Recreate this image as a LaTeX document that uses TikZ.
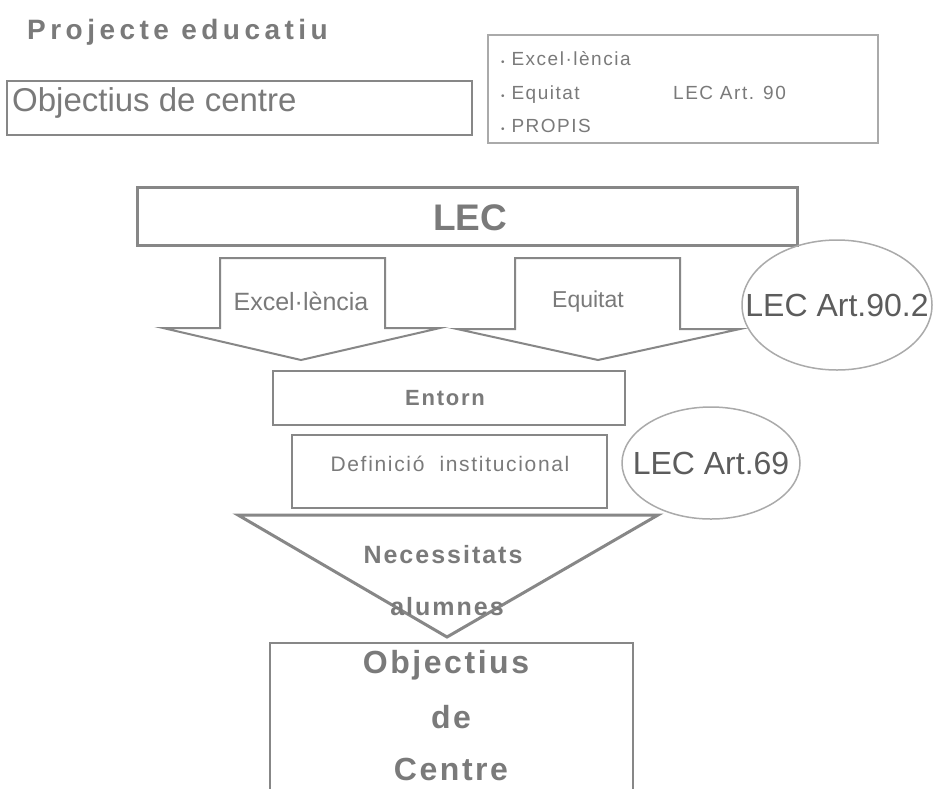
\documentclass[tikz,border=0pt]{standalone}
\usepackage{fontspec}
\setmainfont{Liberation Sans}
\newfontfamily\spaced{Liberation Sans}[LetterSpace=8]
\newfontfamily\wide{Liberation Sans}[LetterSpace=16]
\usetikzlibrary{shapes.geometric, calc}

\definecolor{txtgray}{RGB}{122,122,122}
\definecolor{linegray}{RGB}{135,135,135}
\definecolor{lightline}{RGB}{170,170,170}
\definecolor{darktxt}{RGB}{92,92,92}

\newcommand{\fsz}[1]{\fontsize{#1}{#1}\selectfont}
\newcommand{\blt}{{\fsz{10}\textbullet}}

\tikzset{
    box/.style={draw=linegray, line width=2pt, inner sep=0pt},
    oval/.style={ellipse, draw=lightline, line width=1.5pt, inner sep=0pt},
    blockarrow/.style={draw=linegray, line width=2pt, line join=miter},
    txt/.style={text=txtgray, inner sep=0pt}
}

\begin{document}
\begin{tikzpicture}[x=1pt, y=-1pt]
    \useasboundingbox[fill=white] (0,0) rectangle (936,788);

    \node[txt, anchor=base west, font=\wide\bfseries\fsz{28}] (titol) at (27,39) {Projecte educatiu};

    \node[box, minimum width=465, minimum height=54] (objbox) at (239.5,108) {};
    \node[txt, anchor=base west, font=\fsz{33}] (objtxt) at ($(objbox.west) + (6,3)$) {Objectius de centre};

    \node[box, draw=lightline, line width=1.5pt, minimum width=390, minimum height=108] (llista) at (683,89) {};
    \node[txt, anchor=base west, font=\spaced\fsz{19}] (exc) at (501,65) {\blt\ Excel·lència};
    \node[txt, anchor=base west, font=\spaced\fsz{19}] (equ) at (501,99) {\blt\ Equitat};
    \node[txt, anchor=base west, font=\spaced\fsz{19}] (pro) at (501,132) {\blt\ PROPIS};
    \node[txt, anchor=base west, font=\spaced\fsz{19}] (art90) at (673,99) {LEC Art. 90};

    \node[box, line width=3pt, minimum width=660, minimum height=58] (lec) at (467,216) {};
    \node[txt, font=\bfseries\fsz{37}] (lectxt) at (470,218) {LEC};

    \draw[blockarrow] (220,258) -- (385,258) -- (385,328) -- (440,328) -- (301,360) -- (163,328) -- (220,328) -- cycle;
    \draw[blockarrow] (515,258) -- (680,258) -- (680,329) -- (740,329) -- (598,360) -- (457,329) -- (515,329) -- cycle;
    \node[txt, font=\fsz{25}] (excfl) at (301,301) {Excel·lència};
    \node[txt, font=\fsz{23}] (equfl) at (588,302) {Equitat};

    \node[oval, minimum width=190, minimum height=130] (art902) at (837,305) {};
    \node[txt, text=darktxt, font=\fsz{32}] (art902txt) at (art902) {LEC Art.90.2};

    \node[box, minimum width=352, minimum height=54] (entorn) at (449,398) {};
    \node[txt, font=\spaced\bfseries\fsz{22}] (entorntxt) at (445,398) {Entorn};

    \node[box, minimum width=315, minimum height=73] (definicio) at (449.5,471) {};
    \node[txt, font=\spaced\fsz{21}] (definiciotxt) at (450,464) {Definició\ \ institucional};

    \node[oval, minimum width=178, minimum height=112] (art69) at (711,463) {};
    \node[txt, text=darktxt, font=\fsz{32}] (art69txt) at (art69) {LEC Art.69};

    \coordinate (trie) at (238,515);
    \coordinate (trid) at (658,515);
    \coordinate (trip) at (447,637);
    \draw[draw=linegray, line width=3pt, line join=miter] (trie) -- (trid) -- (trip) -- cycle;
    \node[txt, anchor=base, font=\spaced\bfseries\fsz{25}] (necess) at (443,563) {Necessitats};
    \node[txt, anchor=base, font=\spaced\bfseries\fsz{25}] (alumnes) at (447,615) {alumnes};

    \node[box, minimum width=363, minimum height=170] (objectius) at (451.5,728) {};
    \node[txt, anchor=base, font=\spaced\bfseries\fsz{32}] (obj1) at (446,673) {Objectius};
    \node[txt, anchor=base, font=\spaced\bfseries\fsz{32}] (obj2) at (451,728) {de};
    \node[txt, anchor=base, font=\spaced\bfseries\fsz{32}] (obj3) at (451,780) {Centre};
\end{tikzpicture}
\end{document}
